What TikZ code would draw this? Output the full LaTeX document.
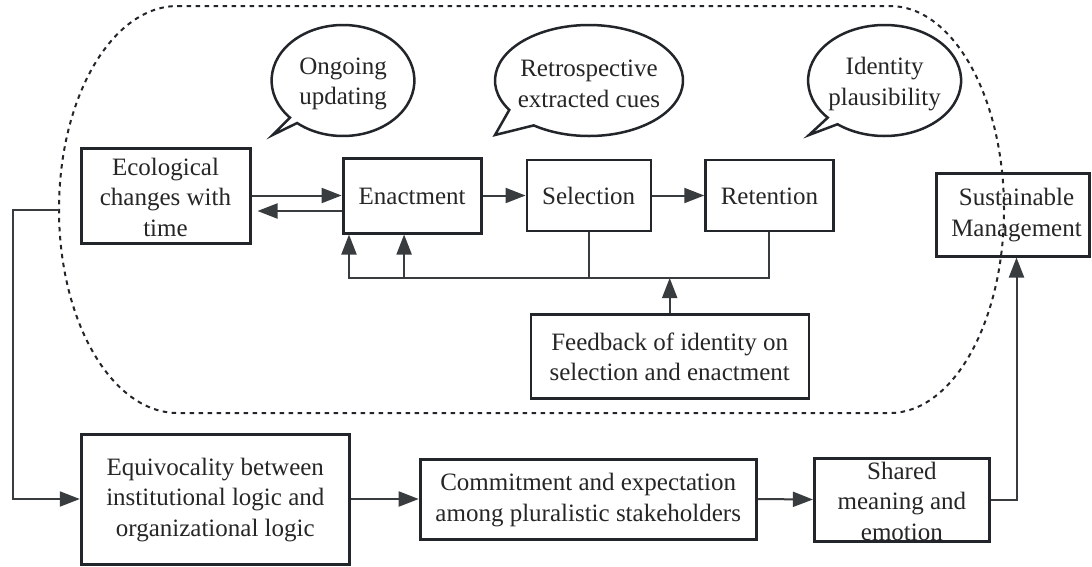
\documentclass[tikz,border=0pt]{standalone}
\usepackage{fontspec}
\setmainfont{Liberation Serif}
\usetikzlibrary{arrows.meta,calc}
\definecolor{ink}{HTML}{22262A}
\definecolor{txt}{HTML}{262626}
\tikzset{
  boxthick/.style={draw=ink, line width=3pt, rectangle, inner sep=0pt},
  boxthin/.style={draw=ink, line width=2.3pt, rectangle, inner sep=0pt},
  label/.style={text=txt, align=center, inner sep=0pt, font=\fontsize{25}{30.5}\selectfont},
  conn/.style={draw=ink!90, line width=2pt},
  tip/.style={-{Triangle[length=20pt,width=15pt]}},
  bubble/.style={draw=ink, line width=2.5pt, line join=miter},
  outline/.style={draw=ink, line width=2pt, dash pattern=on 4.5pt off 4.5pt}
}
\begin{document}
\begin{tikzpicture}[x=1pt,y=-1pt]
\useasboundingbox (0,0) rectangle (1092,566);
\fill[white] (0,0) rectangle (1092,566);

% dashed outline
\draw[outline] (177.6,6) -- (890,6)
  arc[start angle=-90, end angle=90, x radius=114, y radius=203.5]
  -- (177.6,413)
  arc[start angle=90, end angle=270, x radius=118.6, y radius=203.5] -- cycle;
\coordinate (dl) at (59,209.5);

% bubbles
\draw[bubble] (343,80.5) ++(138:71.4 and 55.5)
  arc[start angle=138, end angle=490, x radius=71.4, y radius=55.5]
  -- (272.6,135) -- cycle;
\node[label] (ong) at (343,84) {Ongoing\\updating};

\draw[bubble] (589,80.5) ++(148:94 and 55.5)
  arc[start angle=148, end angle=486, x radius=94, y radius=55.5]
  -- (495,135) -- cycle;
\node[label] (retro) at (589,84) {Retrospective\\extracted cues};

\draw[bubble] (884.6,80.5) ++(138:76.5 and 55.5)
  arc[start angle=138, end angle=488, x radius=76.5, y radius=55.5]
  -- (809,135) -- cycle;
\node[label] (ident) at (884.6,84) {Identity\\plausibility};

% boxes
\node[boxthick, minimum width=169pt, minimum height=95pt] (eco) at (165.5,195.5) {};
\node[label] (ecot) at (165.5,197) {Ecological\\changes with\\time};

\node[boxthick, minimum width=138pt, minimum height=75pt] (ena) at (412.1,195.5) {};
\node[label] (enat) at (412.1,196) {Enactment};

\node[boxthin, minimum width=124pt, minimum height=71pt] (sel) at (588.7,195.5) {};
\node[label] (selt) at (588.7,196) {Selection};

\node[boxthin, minimum width=128pt, minimum height=71pt] (ret) at (769.4,195.5) {};
\node[label] (rett) at (769.4,196) {Retention};

\node[boxthick, minimum width=153pt, minimum height=83pt] (sus) at (1012.5,214.5) {};
\node[label] (sust) at (1016.5,215) {Sustainable\\Management};

\node[boxthin, minimum width=278pt, minimum height=84pt] (fb) at (669.7,356.5) {};
\node[label] (fbt) at (669.7,357) {Feedback of identity on\\selection and enactment};

\node[boxthick, minimum width=268pt, minimum height=130pt] (equ) at (215.3,499) {};
\node[label] (equt) at (215.3,500) {Equivocality between\\institutional logic and\\organizational logic};

\node[boxthick, minimum width=336pt, minimum height=80pt] (com) at (588.2,499) {};
\node[label] (comt) at (588.2,500) {Commitment and expectation\\among pluralistic stakeholders};

\node[boxthick, minimum width=175pt, minimum height=83pt] (sha) at (901.9,499.5) {};
\node[label] (shat) at (901.9,501) {Shared\\meaning and\\emotion};

% connectors
\draw[conn,tip] (eco.east) -- (ena.west);
\draw[conn,tip] ([yshift=-15.5pt]ena.west) -- ([yshift=-15.5pt,xshift=6pt]eco.east);
\draw[conn,tip] (ena.east) -- (sel.west);
\draw[conn,tip] (sel.east) -- (ret.west);

\coordinate (fbj) at (669.7,278);
\coordinate (e1) at ([xshift=7.4pt]ena.south west);
\coordinate (e2) at ([xshift=-8pt]ena.south);
\draw[conn,tip] (ret.south) |- (e1 |- fbj) -- (e1);
\draw[conn,tip] (e2 |- fbj) -- (e2);
\draw[conn] (sel.south) -- (sel.south |- fbj);
\draw[conn,tip] (fb.north) -- (fbj);

\draw[conn,tip] (dl) -- ++(-46.1,0) |- (equ.west);
\draw[conn,tip] (equ.east) -- (com.west);
\draw[conn,tip] (com.east) -- (sha.west);
\draw[conn,tip] (sha.east) -| ([xshift=4pt]sus.south);
\end{tikzpicture}
\end{document}
